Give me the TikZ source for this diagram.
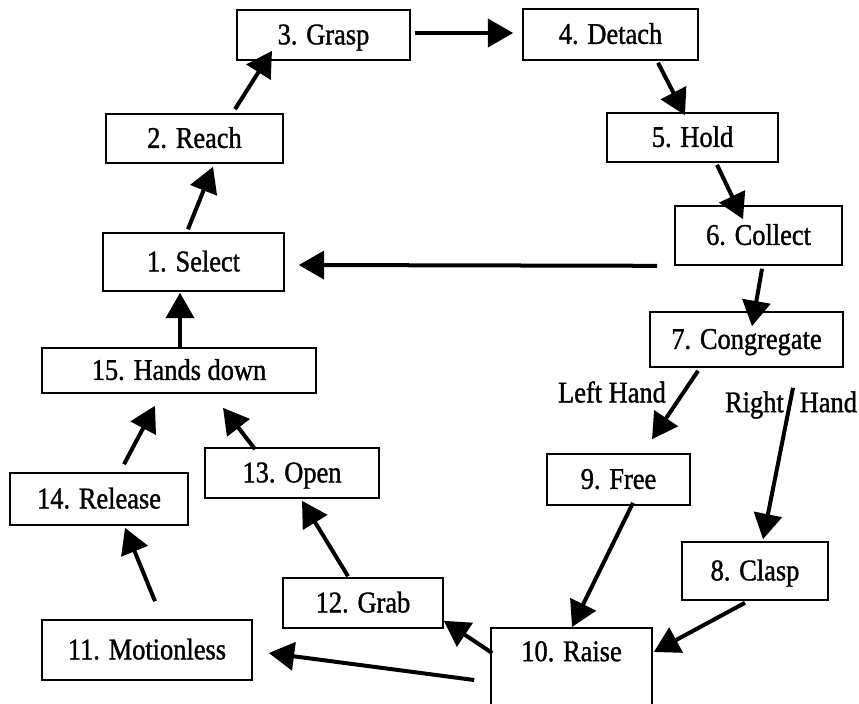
\documentclass[tikz,border=0pt]{standalone}
\usepackage{fontspec}
\setmainfont{Liberation Serif}
\newfontfamily\stepfont{Liberation Serif}[FakeStretch=0.88, FakeBold=1.2]
\usetikzlibrary{arrows.meta,calc}

\tikzset{every picture/.style={line width=0.75pt}}
\tikzset{
	stepbox/.style={draw, line width=1.2pt, inner sep=0pt, text height=15pt, text depth=1pt, font=\stepfont\fontsize{22.5}{26}\selectfont},
	flow/.style={line width=3pt, -{Triangle[length=19pt,width=21pt]}},
	handlabel/.style={inner sep=0pt, font=\stepfont\fontsize{22.5}{26}\selectfont}
}

\begin{document}
\begin{tikzpicture}[x=0.75pt,y=0.75pt,yscale=-1,xscale=1]
		\useasboundingbox (0,0) rectangle (859,703);
		
		%Shape: Rectangle [steps]
		\node [stepbox, minimum width=135.75pt, minimum height=43.5pt] (sel) at (193.5,262) {1. Select};
		\node [stepbox, minimum width=132.75pt, minimum height=36.75pt] (reach) at (194.5,138.5) {2. Reach};
		\node [stepbox, minimum width=129.75pt, minimum height=37.5pt] (grasp) at (323.5,35) {3. Grasp};
		\node [stepbox, minimum width=131.25pt, minimum height=38.25pt] (detach) at (610.5,34.5) {4. Detach};
		\node [stepbox, minimum width=128.25pt, minimum height=36.75pt] (hold) at (692.5,137.5) {5. Hold};
		\node [stepbox, minimum width=125.25pt, minimum height=44.25pt] (collect) at (758.5,235.5) {6. Collect};
		\node [stepbox, minimum width=144.75pt, minimum height=41.25pt] (cong) at (746.5,339.5) {7. Congregate};
		\node [stepbox, minimum width=109.5pt, minimum height=43.5pt] (clasp) at (755,571) {8. Clasp};
		\node [stepbox, minimum width=107.25pt, minimum height=38.25pt] (free) at (618.5,479.5) {9. Free};
		\node [stepbox, anchor=north, minimum width=120.75pt, text height=25pt, text depth=50pt] (raise) at (571.5,627) {10. Raise};
		\node [stepbox, minimum width=157.5pt, minimum height=45pt] (motion) at (147,650) {11. Motionless};
		\node [stepbox, minimum width=120pt, minimum height=37.5pt] (grab) at (363,603) {12. Grab};
		\node [stepbox, minimum width=130.5pt, minimum height=37.5pt] (open) at (292,473) {13. Open};
		\node [stepbox, minimum width=133.5pt, minimum height=39pt] (release) at (99,499) {14. Release};
		\node [stepbox, minimum width=205.5pt, minimum height=33.75pt] (hands) at (179,370.5) {15. Hands down};
		
		%Arrows
		\draw [flow] ($(sel.north)+(-5.5,-3)$) -- ($(reach.south)+(18.5,3)$);
		\draw [flow] ($(reach.north)+(40.5,-4)$) -- ($(grasp.south)+(-51.5,-10)$);
		\draw [flow] ($(grasp.east)+(4,-2)$) -- ($(detach.west)+(-9,-1.5)$);
		\draw [flow] ($(detach.south)+(47.5,2)$) -- ($(hold.north)+(-7.5,3)$);
		\draw [flow] ($(hold.south)+(24.5,2)$) -- ($(collect.north)+(-15.5,14)$);
		\draw [flow] ($(collect.south west)+(-17,0)$) -- ($(sel.east)+(14,3)$);
		\draw [flow] ($(collect.south)+(3.5,3)$) -- ($(cong.north)+(5.5,15)$);
		\draw [flow] ($(cong.south)+(-48.5,3)$) -- ($(free.north)+(33.5,-14)$);
		\draw [flow] ($(cong.south)+(46.5,20)$) -- ($(clasp.north)+(8,-2)$);
		\draw [flow] ($(free.south)+(14.5,-3)$) -- ($(raise.north)+(0.5,0)$);
		\draw [flow] ($(clasp.south)+(-10,2)$) -- ($(raise.north east)+(1,25)$);
		\draw [flow] ($(raise.north west)+(2,26)$) -- ($(grab.south east)+(0,-8)$);
		\draw [flow] ($(raise.north west)+(-16,53)$) -- ($(motion.east)+(16,3)$);
		\draw [flow] ($(grab.north)+(-15,-1)$) -- ($(open.south)+(10,2)$);
		\draw [flow] ($(motion.north)+(8,-18)$) -- ($(release.south)+(26,2)$);
		\draw [flow] ($(release.north)+(25,-8)$) -- ($(hands.south)+(-24,12)$);
		\draw [flow] ($(open.north)+(-37,2)$) -- ($(hands.south)+(44,14)$);
		\draw [flow] ($(hands.north)+(1,0)$) -- ($(sel.south)+(-13.5,1)$);
		
		\node [handlabel] (left) at (612,392) {Left Hand};
		\node [handlabel] (right) at (791,405) {Right\hspace{12pt}Hand};
		
	\end{tikzpicture}
\end{document}
